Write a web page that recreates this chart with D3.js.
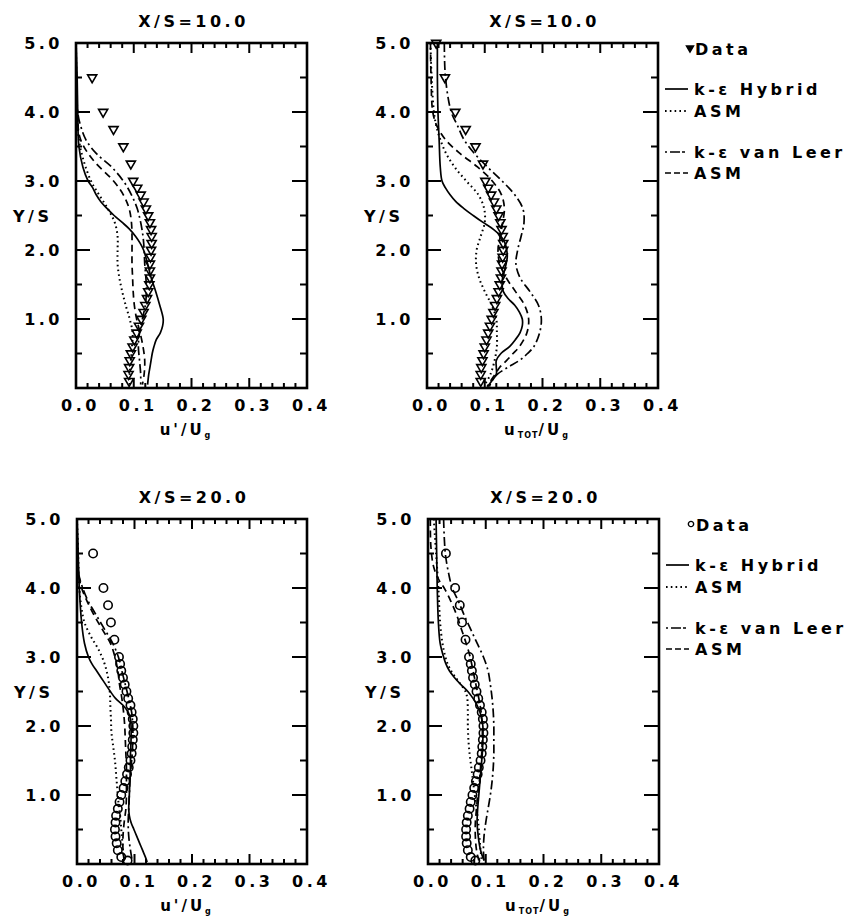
<!DOCTYPE html>
<html>
<head>
<meta charset="utf-8">
<script src="https://cdn.jsdelivr.net/npm/d3@7"></script>
<style>
  body { margin: 0; background: #fff; }
  svg text { font-family: 'DejaVu Sans', sans-serif; font-weight: bold; fill: #000; }
</style>
</head>
<body>
<div id="chart"></div>
<script>
// profiles: [Y/S, value] pairs
var tlData = [[4.5,.028],[4.0,.047],[3.75,.065],[3.5,.082],[3.25,.095],[3.0,.099],[2.9,.106],[2.8,.112],[2.7,.117],[2.6,.121],[2.5,.125],[2.4,.128],[2.3,.130],[2.2,.131],[2.1,.131],[2.0,.130],[1.9,.129],[1.8,.128],[1.7,.128],[1.6,.128],[1.5,.127],[1.4,.125],[1.3,.123],[1.2,.120],[1.1,.117],[1.0,.113],[0.9,.109],[0.8,.105],[0.7,.101],[0.6,.098],[0.5,.095],[0.4,.093],[0.3,.092],[0.2,.091],[0.1,.092]];
var tlHybrid = [[5,0],[4.5,.002],[4,.003],[3.5,.005],[3.2,.012],[3,.021],[2.9,.029],[2.8,.035],[2.7,.043],[2.6,.054],[2.5,.066],[2.4,.080],[2.3,.093],[2.2,.103],[2.1,.111],[2,.117],[1.8,.124],[1.6,.130],[1.4,.138],[1.2,.145],[1,.151],[.9,.150],[.8,.146],[.7,.139],[.6,.135],[.5,.132],[.4,.130],[.3,.128],[.2,.126],[.05,.124]];
var tlAsmHybrid = [[5,0],[4,.002],[3.6,.005],[3.3,.013],[3,.026],[2.8,.040],[2.6,.055],[2.4,.067],[2.2,.072],[2,.072],[1.8,.072],[1.6,.075],[1.4,.080],[1.2,.086],[1,.093],[.8,.098],[.6,.097],[.4,.095],[.2,.093],[.05,.093]];
var tlVanLeer = [[5,0],[4,.003],[3.8,.008],[3.6,.017],[3.4,.035],[3.2,.062],[3,.082],[2.8,.096],[2.6,.106],[2.4,.112],[2.2,.116],[2,.118],[1.8,.119],[1.6,.121],[1.4,.122],[1.2,.120],[1,.115],[.8,.110],[.6,.108],[.4,.110],[.2,.112],[.05,.112]];
var tlAsmVanLeer = [[5,0],[4,.002],[3.6,.008],[3.3,.030],[3,.065],[2.8,.082],[2.6,.092],[2.4,.096],[2.2,.097],[2,.097],[1.8,.097],[1.6,.098],[1.4,.099],[1.2,.101],[1,.105],[.8,.111],[.6,.116],[.4,.119],[.2,.118],[.05,.115]];

var trData = [[5,.016],[4.5,.031],[4,.049],[3.75,.067],[3.5,.084],[3.25,.097],[3,.101],[2.9,.106],[2.8,.111],[2.7,.116],[2.6,.120],[2.5,.124],[2.4,.127],[2.3,.129],[2.2,.131],[2.1,.132],[2,.132],[1.9,.131],[1.8,.130],[1.7,.129],[1.6,.128],[1.5,.126],[1.4,.124],[1.3,.121],[1.2,.118],[1.1,.115],[1,.112],[.9,.109],[.8,.106],[.7,.103],[.6,.100],[.5,.098],[.4,.096],[.3,.094],[.2,.093],[.1,.093]];
var trHybrid = [[5,.018],[4.5,.018],[4,.019],[3.6,.021],[3.2,.023],[3,.026],[2.9,.032],[2.8,.040],[2.7,.050],[2.6,.064],[2.5,.080],[2.4,.097],[2.3,.115],[2.2,.128],[2.1,.135],[2,.138],[1.9,.139],[1.8,.137],[1.7,.134],[1.6,.131],[1.5,.130],[1.4,.132],[1.3,.140],[1.2,.152],[1.1,.160],[1,.165],[.9,.165],[.8,.161],[.7,.153],[.6,.143],[.5,.128],[.4,.120],[.3,.120],[.2,.120],[.1,.112],[.02,.105]];
var trAsmHybrid = [[5,.006],[4.5,.008],[4,.012],[3.8,.016],[3.6,.023],[3.4,.033],[3.2,.048],[3,.068],[2.8,.089],[2.6,.099],[2.4,.100],[2.2,.093],[2,.086],[1.8,.085],[1.6,.090],[1.4,.100],[1.2,.112],[1,.120],[.8,.121],[.6,.121],[.4,.117],[.2,.110],[.05,.100]];
var trVanLeer = [[5,.030],[4.5,.032],[4,.042],[3.8,.053],[3.6,.064],[3.4,.082],[3.2,.105],[3,.130],[2.8,.152],[2.6,.166],[2.4,.168],[2.2,.163],[2,.157],[1.8,.154],[1.6,.161],[1.4,.178],[1.2,.193],[1,.198],[.8,.195],[.6,.185],[.5,.174],[.4,.160],[.3,.140],[.2,.122],[.1,.112],[.02,.108]];
var trAsmVanLeer = [[5,.006],[4.5,.007],[4,.010],[3.8,.017],[3.6,.032],[3.4,.057],[3.2,.088],[3,.113],[2.8,.129],[2.6,.134],[2.4,.131],[2.2,.127],[2,.123],[1.8,.126],[1.6,.137],[1.4,.153],[1.2,.169],[1,.176],[.8,.173],[.6,.160],[.5,.149],[.4,.138],[.3,.126],[.2,.118],[.1,.110],[.02,.104]];

var blData = [[4.5,.028],[4,.046],[3.75,.054],[3.5,.059],[3.25,.065],[3,.073],[2.9,.075],[2.8,.077],[2.7,.080],[2.6,.083],[2.5,.086],[2.4,.089],[2.3,.093],[2.2,.095],[2.1,.097],[2,.098],[1.9,.098],[1.8,.097],[1.7,.096],[1.6,.095],[1.5,.093],[1.4,.090],[1.3,.087],[1.2,.084],[1.1,.081],[1,.077],[.9,.074],[.8,.071],[.7,.068],[.6,.067],[.5,.066],[.4,.067],[.3,.069],[.2,.071],[.1,.077],[.05,.088]];
var blHybrid = [[5,0],[4.5,.002],[4,.004],[3.5,.008],[3.2,.013],[3,.020],[2.9,.026],[2.8,.034],[2.7,.042],[2.6,.050],[2.5,.058],[2.4,.067],[2.3,.080],[2.2,.089],[2.1,.093],[2,.094],[1.8,.094],[1.6,.093],[1.4,.093],[1.2,.092],[1,.091],[.8,.090],[.7,.091],[.6,.094],[.5,.099],[.4,.104],[.3,.109],[.2,.114],[.1,.119],[.03,.122]];
var blAsmHybrid = [[5,0],[4.5,.002],[4,.004],[3.7,.008],[3.5,.013],[3.3,.024],[3.1,.038],[2.9,.048],[2.7,.054],[2.5,.057],[2.3,.058],[2.1,.059],[1.9,.060],[1.7,.063],[1.5,.066],[1.3,.068],[1.1,.070],[.9,.072],[.7,.075],[.5,.077],[.3,.079],[.1,.081]];
var blVanLeer = [[5,0],[4.5,.001],[4.2,.003],[4,.010],[3.8,.020],[3.6,.034],[3.4,.048],[3.2,.062],[3,.072],[2.8,.078],[2.6,.084],[2.4,.090],[2.2,.095],[2,.097],[1.8,.097],[1.6,.096],[1.4,.094],[1.2,.092],[1,.091],[.8,.090],[.6,.089],[.4,.090],[.2,.093],[.05,.096]];
var blAsmVanLeer = [[5,0],[4.5,.001],[4.2,.003],[4,.008],[3.8,.018],[3.6,.030],[3.4,.044],[3.2,.058],[3,.066],[2.8,.071],[2.6,.074],[2.4,.078],[2.2,.081],[2,.083],[1.8,.084],[1.6,.085],[1.4,.086],[1.2,.086],[1,.086],[.8,.085],[.6,.082],[.4,.080],[.2,.080],[.05,.082]];

var brData = [[4.5,.031],[4,.047],[3.75,.055],[3.5,.059],[3.25,.065],[3,.071],[2.9,.074],[2.8,.076],[2.7,.078],[2.6,.081],[2.5,.084],[2.4,.087],[2.3,.090],[2.2,.093],[2.1,.095],[2,.096],[1.9,.096],[1.8,.095],[1.7,.094],[1.6,.093],[1.5,.091],[1.4,.088],[1.3,.086],[1.2,.083],[1.1,.080],[1,.077],[.9,.074],[.8,.072],[.7,.069],[.6,.067],[.5,.066],[.4,.066],[.3,.067],[.2,.069],[.1,.074],[.05,.082]];
var brHybrid = [[5,.014],[4.5,.015],[4,.016],[3.5,.018],[3.2,.021],[3,.027],[2.9,.031],[2.8,.037],[2.7,.046],[2.6,.057],[2.5,.069],[2.4,.078],[2.3,.085],[2.2,.090],[2.1,.093],[2,.095],[1.8,.095],[1.6,.094],[1.4,.092],[1.2,.090],[1,.088],[.8,.086],[.6,.085],[.4,.087],[.2,.091],[.05,.097]];
var brAsmHybrid = [[5,.010],[4.5,.014],[4,.018],[3.5,.021],[3.2,.025],[3,.030],[2.9,.034],[2.8,.040],[2.7,.048],[2.6,.057],[2.5,.065],[2.4,.068],[2.2,.069],[2,.069],[1.8,.070],[1.6,.072],[1.4,.075],[1.2,.078],[1,.081],[.8,.084],[.6,.087],[.4,.089],[.2,.091],[.05,.093]];
var brVanLeer = [[5,.027],[4.5,.030],[4.2,.036],[4,.042],[3.8,.053],[3.6,.063],[3.4,.074],[3.2,.085],[3,.096],[2.8,.104],[2.6,.108],[2.4,.111],[2.2,.113],[2,.114],[1.8,.114],[1.6,.114],[1.4,.113],[1.2,.111],[1,.108],[.8,.104],[.6,.100],[.4,.097],[.2,.096],[.05,.097]];
var brAsmVanLeer = [[5,.004],[4.6,.005],[4.3,.010],[4.1,.020],[4,.028],[3.8,.040],[3.6,.050],[3.4,.058],[3.2,.066],[3,.073],[2.8,.078],[2.6,.083],[2.4,.088],[2.2,.092],[2,.094],[1.8,.094],[1.6,.093],[1.4,.091],[1.2,.089],[1,.086],[.8,.084],[.6,.082],[.4,.082],[.2,.084],[.05,.088]];

var xTicks = [0, 0.1, 0.2, 0.3, 0.4];
var yTicks = [1, 2, 3, 4, 5];
var xMinor = d3.range(0.02, 0.39, 0.02);
var xMajor = [0.1, 0.2, 0.3];
var yMinor = [0.5, 1.5, 2.5, 3.5, 4.5];
var yMajor = [1, 2, 3, 4];
var legendLabels = ["k-\u03b5  Hybrid", "ASM", "k-\u03b5  van Leer", "ASM"];
var keys = ["hybrid", "asmHybrid", "vanLeer", "asmVanLeer"];
var dashes = {hybrid: null, asmHybrid: "1.6,3.2", vanLeer: "9,3.5,2,3.5", asmVanLeer: "7,4.5"};
var legendDashes = {hybrid: null, asmHybrid: "1.6,3.2", vanLeer: "2,3,10", asmVanLeer: "6,3"};

var panels = [
  {left: 76, right: 307, top: 43, bottom: 388, title: "X/S=10.0", xlab: "prime", marker: "tri",
   data: tlData, hybrid: tlHybrid, asmHybrid: tlAsmHybrid, vanLeer: tlVanLeer, asmVanLeer: tlAsmVanLeer},
  {left: 427, right: 658, top: 43, bottom: 388, title: "X/S=10.0", xlab: "tot", marker: "tri", legend: true,
   data: trData, hybrid: trHybrid, asmHybrid: trAsmHybrid, vanLeer: trVanLeer, asmVanLeer: trAsmVanLeer},
  {left: 77, right: 307, top: 519, bottom: 864, title: "X/S=20.0", xlab: "prime", marker: "circ",
   data: blData, hybrid: blHybrid, asmHybrid: blAsmHybrid, vanLeer: blVanLeer, asmVanLeer: blAsmVanLeer},
  {left: 428, right: 659, top: 519, bottom: 864, title: "X/S=20.0", xlab: "tot", marker: "circ", legend: true,
   data: brData, hybrid: brHybrid, asmHybrid: brAsmHybrid, vanLeer: brVanLeer, asmVanLeer: brAsmVanLeer}
];

var svg = d3.select("#chart").append("svg").attr("width", 859).attr("height", 922);
var fmt = d3.format(".1f");
var LS = "3.5px";

panels.forEach(function(p) {
  var x = d3.scaleLinear().domain([0, 0.4]).range([p.left, p.right]);
  var y = d3.scaleLinear().domain([0, 5]).range([p.bottom, p.top]);
  p.x = x; p.y = y;
  var g = svg.append("g");

  var xb = g.append("g").attr("transform", "translate(0," + p.bottom + ")")
      .call(d3.axisBottom(x).tickValues(xTicks).tickSize(0).tickPadding(12).tickFormat(fmt));
  var yb = g.append("g").attr("transform", "translate(" + p.left + ",0)")
      .call(d3.axisLeft(y).tickValues(yTicks).tickSize(0).tickPadding(13).tickFormat(fmt));
  xb.selectAll("text").attr("dx", 4);
  [xb, yb].forEach(function(a) {
    a.select(".domain").remove();
    a.selectAll("text").style("font-size", "16px").style("letter-spacing", LS).attr("fill", "#000");
  });

  g.append("text")
      .attr("x", (p.left + p.right) / 2 + 2).attr("y", p.top - 16)
      .attr("text-anchor", "middle")
      .style("font-size", "16px").style("letter-spacing", LS)
      .text(p.title);

  g.append("text")
      .attr("x", p.left - 63).attr("y", y(2.5) + 6)
      .style("font-size", "16px").style("letter-spacing", LS)
      .text("Y/S");

  var xl = g.append("text")
      .attr("x", (p.left + p.right) / 2 - 5).attr("y", p.bottom + 47)
      .attr("text-anchor", "middle")
      .style("font-size", "15px").style("letter-spacing", "3px");
  if (p.xlab === "prime") {
    xl.append("tspan").text("u'/U");
  } else {
    xl.append("tspan").text("u");
    xl.append("tspan").attr("dy", 3).style("font-size", "8px").style("letter-spacing", "1px").text("TOT");
    xl.append("tspan").attr("dy", -3).text("/U");
  }
  xl.append("tspan").attr("dy", 3).style("font-size", "8px").text("g");

  var line = d3.line()
      .x(function(d) { return x(d[1]); })
      .y(function(d) { return y(d[0]); })
      .curve(d3.curveCatmullRom.alpha(0.5));

  keys.forEach(function(k) {
    g.append("path")
        .datum(p[k])
        .attr("d", line)
        .attr("fill", "none")
        .attr("stroke", "#000")
        .attr("stroke-width", k === "asmHybrid" ? 2 : 1.7)
        .attr("stroke-dasharray", dashes[k]);
  });

  var sym = p.marker === "tri"
      ? d3.symbol().type(d3.symbolTriangle).size(36)
      : d3.symbol().type(d3.symbolCircle).size(55);
  g.append("g").selectAll("path")
      .data(p.data)
      .enter().append("path")
      .attr("d", sym)
      .attr("transform", function(d) {
        return "translate(" + x(d[1]) + "," + y(d[0]) + ")" + (p.marker === "tri" ? " rotate(180)" : "");
      })
      .attr("fill", "none")
      .attr("stroke", "#000")
      .attr("stroke-width", 1.6);

  if (p.legend) {
    var lx = p.right + 7;
    var msym = d3.symbol().type(p.marker === "tri" ? d3.symbolTriangle : d3.symbolCircle).size(22);
    g.append("path")
        .attr("d", msym)
        .attr("transform", "translate(" + (lx + 25) + "," + (p.top + 5) + ")" + (p.marker === "tri" ? " rotate(180)" : ""))
        .attr("fill", p.marker === "tri" ? "#000" : "none")
        .attr("stroke", "#000").attr("stroke-width", 1.4);
    g.append("text")
        .attr("x", lx + 30).attr("y", p.top + 12)
        .style("font-size", "16px").style("letter-spacing", LS)
        .text("Data");
    var rows = [46, 68, 109, 130];
    keys.forEach(function(k, i) {
      var yy = p.top + rows[i];
      g.append("line")
          .attr("x1", lx).attr("x2", lx + 23)
          .attr("y1", yy).attr("y2", yy)
          .attr("stroke", "#000")
          .attr("stroke-width", k === "asmHybrid" ? 2 : 1.7)
          .attr("stroke-dasharray", legendDashes[k]);
      g.append("text")
          .attr("x", lx + 29).attr("y", yy + 6)
          .style("font-size", "16px").style("letter-spacing", LS)
          .text(legendLabels[i]);
    });
  }
});

// frames and inward tick marks, drawn last on top
var frameLayer = svg.append("g");
panels.forEach(function(p) {
  var x = p.x, y = p.y;
  frameLayer.append("rect")
      .attr("x", p.left).attr("y", p.top)
      .attr("width", p.right - p.left).attr("height", p.bottom - p.top)
      .attr("fill", "none").attr("stroke", "#000").attr("stroke-width", 2.6);
  var tp = "";
  xMinor.forEach(function(d) { tp += "M" + x(d) + "," + p.top + "v5M" + x(d) + "," + p.bottom + "v-5"; });
  xMajor.forEach(function(d) { tp += "M" + x(d) + "," + p.top + "v10M" + x(d) + "," + p.bottom + "v-10"; });
  yMinor.forEach(function(d) { tp += "M" + p.left + "," + y(d) + "h6M" + p.right + "," + y(d) + "h-7"; });
  yMajor.forEach(function(d) { tp += "M" + p.left + "," + y(d) + "h14M" + p.right + "," + y(d) + "h-15"; });
  frameLayer.append("path")
      .attr("d", tp)
      .attr("fill", "none")
      .attr("stroke", "#000")
      .attr("stroke-width", 2);
});
</script>
</body>
</html>
